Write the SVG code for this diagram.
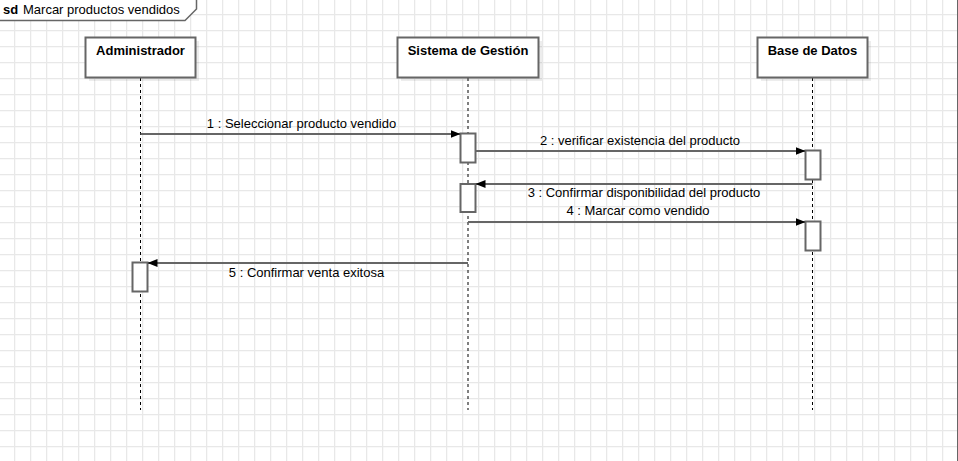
<svg xmlns="http://www.w3.org/2000/svg" width="958" height="461" viewBox="0 0 958 461">
<defs>
<pattern id="grid" patternUnits="userSpaceOnUse" x="14" y="14" width="16" height="16">
<path d="M0,0.5 H16 M0.5,0 V16" fill="none" stroke="#e8e8e8" stroke-width="1.5"/>
</pattern>
<marker id="arr" markerUnits="userSpaceOnUse" markerWidth="11" markerHeight="9" refX="10" refY="4" orient="auto">
<path d="M0,0 L10,4 L0,8 z" fill="#000"/>
</marker>
</defs>
<style>
.head{fill:#fff;stroke:#666;stroke-width:2}
.shadow{fill:#000;opacity:0.07}
.hl{font-family:"Liberation Sans",Arial,sans-serif;font-size:13px;font-weight:bold;fill:#000;text-anchor:middle}
.life{stroke:#000;stroke-width:1;stroke-dasharray:3,3;fill:none}
.act{fill:#fff;stroke:#666;stroke-width:2}
.msg{stroke:#666;stroke-width:2;fill:none;marker-end:url(#arr)}
.ml{font-family:"Liberation Sans",Arial,sans-serif;font-size:13px;fill:#000;text-anchor:middle}
.fl{font-family:"Liberation Sans",Arial,sans-serif;font-size:13px;fill:#000}
</style>
<rect width="958" height="461" fill="#fff"/>
<rect width="958" height="461" fill="url(#grid)"/>
<line x1="957.5" y1="0" x2="957.5" y2="461" stroke="#666" stroke-width="1"/>
<g id="frame">
<path d="M0,0 H196.5 V9 L185,20.5 H0 Z" fill="#fff"/>
<path d="M0,20.5 H185 L196.5,9 V0" fill="none" stroke="#666" stroke-width="1.5"/>
<text x="3" y="13.5" class="fl" font-weight="bold">sd</text>
<text x="23" y="13.5" class="fl">Marcar productos vendidos</text>
</g>
<g id="administrador">
<line x1="140.5" y1="78" x2="140.5" y2="410" class="life"/>
<rect x="89" y="41" width="110" height="40" class="shadow"/>
<rect x="85.5" y="37.5" width="110" height="40" class="head"/>
<text x="140.5" y="55" class="hl">Administrador</text>
<rect x="132.5" y="262.5" width="15" height="29" class="act"/>
</g>
<g id="sistema">
<line x1="468" y1="78" x2="468" y2="410" class="life"/>
<rect x="401" y="41" width="141" height="40" class="shadow"/>
<rect x="397.5" y="37.5" width="141" height="40" class="head"/>
<text x="468" y="55" class="hl">Sistema de Gestión</text>
<rect x="460.5" y="133.5" width="15" height="29" class="act"/>
<rect x="460.5" y="184" width="15" height="28" class="act"/>
</g>
<g id="basedatos">
<line x1="812.5" y1="78" x2="812.5" y2="410" class="life"/>
<rect x="761" y="41" width="110" height="40" class="shadow"/>
<rect x="757.5" y="37.5" width="110" height="40" class="head"/>
<text x="812.5" y="55" class="hl">Base de Datos</text>
<rect x="805.5" y="150.5" width="15" height="29" class="act"/>
<rect x="805.5" y="221.5" width="15" height="29" class="act"/>
</g>
<g id="connectors">
<line x1="140.5" y1="134" x2="460.5" y2="134" class="msg"/>
<text x="301.5" y="128" class="ml">1 : Seleccionar producto vendido</text>
<line x1="475.5" y1="151" x2="805.5" y2="151" class="msg"/>
<text x="640" y="145" class="ml">2 : verificar existencia del producto</text>
<line x1="812.5" y1="184" x2="475.5" y2="184" class="msg"/>
<text x="644" y="197" class="ml">3 : Confirmar disponibilidad del producto</text>
<line x1="468" y1="222" x2="805.5" y2="222" class="msg"/>
<text x="638" y="215" class="ml">4 : Marcar como vendido</text>
<line x1="468" y1="263" x2="147.5" y2="263" class="msg"/>
<text x="306.5" y="277" class="ml">5 : Confirmar venta exitosa</text>
</g>
</svg>
